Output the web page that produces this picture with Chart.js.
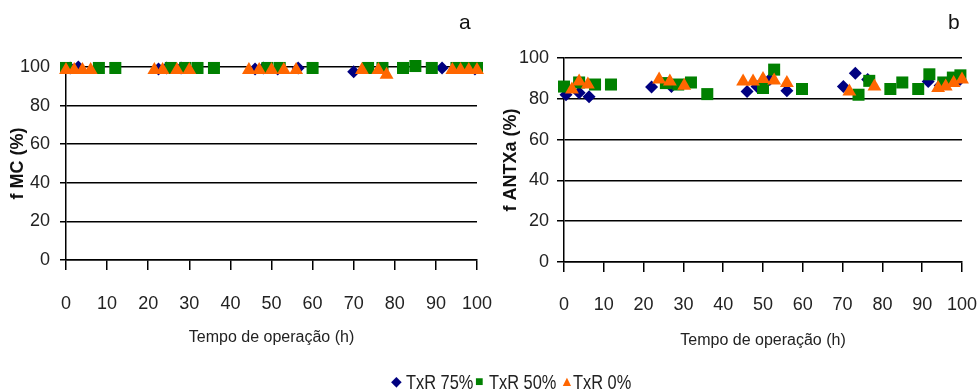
<!DOCTYPE html>
<html>
<head>
<meta charset="utf-8">
<script src="https://cdn.jsdelivr.net/npm/chart.js@4.4.1/dist/chart.umd.min.js"></script>
<style>
  body { margin: 0; background: #fff; width: 977px; height: 392px; position: relative; overflow: hidden; }
  .box { position: absolute; top: 0; height: 392px; }
  .tag { position: absolute; top: 10px; font: 21px "Liberation Sans", Arial, sans-serif; color: #111; }
  .lg { position: absolute; top: 370px; font: 21px "Liberation Sans", Arial, sans-serif; color: #222; white-space: nowrap; transform: scaleX(0.78); transform-origin: left center; line-height: 24px; }
  .mk { position: absolute; line-height: 24px; top: 370px; }
</style>
</head>
<body>
<div class="box" style="left:0;width:492px"><canvas id="chartA"></canvas></div>
<div class="box" style="left:490px;width:487px"><canvas id="chartB"></canvas></div>
<div class="tag" style="left:459px">a</div>
<div class="tag" style="left:948px">b</div>
<span class="mk" style="left:391px;color:#000080;font-size:14px">&#9670;</span><span class="lg" id="lg0" style="left:406px"></span>
<span class="mk" style="left:475px;color:#008000;font-size:14px">&#9632;</span><span class="lg" id="lg1" style="left:489px"></span>
<span class="mk" style="left:560px;color:#ff6600;font-size:14px">&#9650;</span><span class="lg" id="lg2" style="left:573px"></span>
<script>
const FONT = '"Liberation Sans", Arial, sans-serif';
const seriesNames = ['TxR 75%', 'TxR 50%', 'TxR 0%'];
const xTicks = [0, 10, 20, 30, 40, 50, 60, 70, 80, 90, 100];
const yTicks = [0, 20, 40, 60, 80, 100];

// panel a - f MC (%)
const mc75x = [1, 3, 22.5, 24.5, 28, 46, 48, 51.5, 56.5, 70, 91.5, 99.5];
const mc75y = [99.5, 100, 99, 99.5, 99.5, 99, 99.5, 99, 99.5, 97.5, 99.5, 99];
const mc50x = [0, 8, 12, 25.5, 29, 32, 36, 49, 52, 60, 73.5, 77, 82, 85, 89, 95, 97.5, 100];
const mc50y = [99.5, 99.5, 99.5, 99.5, 99.5, 99.5, 99.5, 99.5, 99.5, 99.5, 99.5, 99.5, 99.5, 100.5, 99.5, 99.5, 99.5, 99.5];
const mc0x = [0, 2, 4, 6, 21.5, 23.5, 27, 30, 44.5, 47, 50, 53, 56, 72, 76, 78, 94, 96, 98, 100];
const mc0y = [98.5, 98.5, 98.5, 98.5, 98.5, 98.5, 98.5, 98.5, 98.5, 98.5, 98.5, 98.5, 98.5, 98.5, 98.5, 96, 98.5, 98.5, 98.5, 98.5];

// panel b - f ANTXa (%)
const an75x = [0.5, 3.8, 6.3, 22, 27, 46, 48.5, 51.7, 56, 70.2, 73.2, 76.3, 91.5, 94.5, 96.9, 99.5];
const an75y = [82, 83, 81, 85.8, 86, 83.6, 86, 89.5, 84, 86, 92.5, 89.4, 88.5, 86.5, 89, 89.5];
const an50x = [0, 3.8, 7.8, 11.8, 25.6, 28.7, 31.9, 36, 50, 52.8, 59.8, 74, 76.7, 82, 85, 89, 91.8, 95.3, 97.7, 99.6];
const an50y = [86, 88, 87, 87, 87.7, 87, 88, 82.3, 85.3, 94.3, 84.8, 82, 88.8, 84.8, 88, 84.8, 92, 88, 90.4, 91.5];
const an0x = [2, 3.8, 6, 23.9, 26.6, 30.2, 45, 47.5, 50, 52.8, 56, 71.7, 78, 94, 95.9, 97.9, 100];
const an0y = [84.5, 88.5, 87, 89.4, 88.5, 86.4, 88.5, 88.5, 89.7, 89, 87.7, 83.6, 86, 85.3, 86, 87.7, 89.4];

seriesNames.forEach((name, i) => { document.getElementById('lg' + i).textContent = name; });

const pts = (xs, ys) => xs.map((x, i) => ({ x, y: ys[i] }));

const makeSets = (s75, s50, s0) => [
  { label: seriesNames[0], data: s75, pointStyle: 'rectRot', radius: 6.5, backgroundColor: '#000080', borderColor: '#000080', borderWidth: 0, order: 3, clip: false },
  { label: seriesNames[1], data: s50, pointStyle: 'rect', radius: 8.5, backgroundColor: '#008000', borderColor: '#008000', borderWidth: 0, order: 2, clip: false },
  { label: seriesNames[2], data: s0, pointStyle: 'triangle', radius: 8, backgroundColor: '#ff6600', borderColor: '#ff6600', borderWidth: 0, order: 1, clip: false },
];

const build = (canvas, sets, cfg) => new Chart(canvas, {
  type: 'scatter',
  data: { datasets: sets },
  options: {
    responsive: true,
    maintainAspectRatio: false,
    animation: false,
    layout: { padding: cfg.pad },
    plugins: { legend: { display: false }, tooltip: { enabled: false } },
    scales: {
      x: {
        type: 'linear', min: 0, max: 100,
        afterBuildTicks: (s) => { s.ticks = xTicks.map(v => ({ value: v })); },
        // fixed height; keep tick padding from eating into the plot width
        afterFit: (s) => { s.height = cfg.xHeight; s.paddingLeft = 0; s.paddingRight = 15; },
        ticks: { color: '#222', font: { family: FONT, size: 18 }, padding: cfg.xPad, maxRotation: 0 },
        grid: { drawOnChartArea: false, drawTicks: true, tickLength: 10, color: '#000', lineWidth: 1.5 },
        border: { color: '#000', width: 1.5 },
        title: { display: true, text: 'Tempo de operação (h)', color: '#222', font: { family: FONT, size: 16 }, padding: 0 },
      },
      y: {
        type: 'linear', min: 0, max: 100,
        afterBuildTicks: (s) => { s.ticks = yTicks.map(v => ({ value: v })); },
        afterFit: (s) => { s.width = cfg.yWidth; },
        ticks: { color: '#222', font: { family: FONT, size: 18 }, padding: cfg.yPad },
        grid: { color: '#000', lineWidth: 1.5, tickLength: cfg.yTick, drawTicks: true },
        border: { color: '#000', width: 1.5 },
        title: { display: true, text: cfg.yTitle, color: '#111', font: { family: FONT, size: 18, weight: 'bold' }, padding: { top: cfg.yTitlePad, bottom: 0 } },
      },
    },
  },
});

build(document.getElementById('chartA'), makeSets(pts(mc75x, mc75y), pts(mc50x, mc50y), pts(mc0x, mc0y)), {
  pad: { left: 0, right: 13, top: 67, bottom: 45 },
  xHeight: 87, xPad: 23, yWidth: 66, yPad: 10, yTick: 6, yTitle: 'f MC (%)', yTitlePad: 7,
});

build(document.getElementById('chartB'), makeSets(pts(an75x, an75y), pts(an50x, an50y), pts(an0x, an0y)), {
  pad: { left: 0, right: 13, top: 58, bottom: 42 },
  xHeight: 88, xPad: 22, yWidth: 74, yPad: 8, yTick: 7, yTitle: 'f ANTXa (%)', yTitlePad: 10,
});
</script>
</body>
</html>
